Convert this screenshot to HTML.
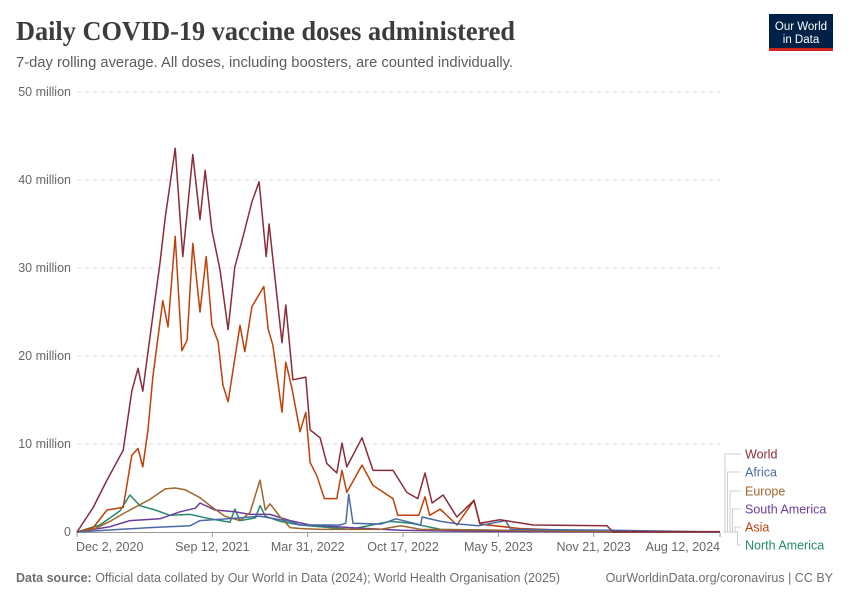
<!DOCTYPE html>
<html><head><meta charset="utf-8"><style>
body{margin:0;background:#fff}
svg text{font-family:"Liberation Sans",sans-serif}
</style></head><body>
<svg id="chart" width="850" height="600" xmlns="http://www.w3.org/2000/svg">
<rect width="850" height="600" fill="#fff"/>
<text x="16" y="40" font-family="Liberation Serif,serif" font-weight="bold" font-size="27" fill="#3c3c3c" textLength="499" lengthAdjust="spacingAndGlyphs" style="font-family:'Liberation Serif',serif">Daily COVID-19 vaccine doses administered</text>
<text x="16" y="67" font-size="14.5" fill="#5b5b5b" textLength="497" lengthAdjust="spacingAndGlyphs">7-day rolling average. All doses, including boosters, are counted individually.</text>
<g>
<rect x="769" y="14" width="64" height="36" fill="#002147"/>
<rect x="769" y="48" width="64" height="3" fill="#ce261e"/>
<text x="801" y="30" font-size="11.5" fill="#fff" text-anchor="middle">Our World</text>
<text x="801" y="43" font-size="11.5" fill="#fff" text-anchor="middle">in Data</text>
</g>
<g id="grid"></g>
<g id="xaxis"></g>
<g id="series"></g>
<g id="legend"></g>
<text x="16" y="582" font-size="12.5" fill="#6e6e6e"><tspan font-weight="bold">Data source:</tspan> Official data collated by Our World in Data (2024); World Health Organisation (2025)</text>
<text x="833" y="582" font-size="12.5" fill="#6e6e6e" text-anchor="end">OurWorldinData.org/coronavirus | CC BY</text>
</svg>
<script>
// days since Dec 2, 2020 ; values in millions
const yTicks=[0,10,20,30,40,50];
const yTickLabels=["0","10 million","20 million","30 million","40 million","50 million"];
const xTickDays=[0,284,484,684,884,1084,1349];
const xTickLabels=["Dec 2, 2020","Sep 12, 2021","Mar 31, 2022","Oct 17, 2022","May 5, 2023","Nov 21, 2023","Aug 12, 2024"];
const seriesNames=["World","Africa","Europe","South America","Asia","North America"];
const seriesColors=["#8a2c3a","#4a6aa6","#a0662c","#6b3d9a","#c0400a","#238a6a"];
const worldDays=[0,34,63,97,115,128,138,149,174,185,206,222,243,258,269,283,300,317,331,348,367,382,397,403,430,438,453,480,489,510,524,545,556,566,598,621,663,692,715,730,745,768,797,833,845,887,957,1112,1124,1349];
const worldVals=[0,2.8,5.9,9.3,16,18.6,16,20.5,30.5,35.7,43.6,31.3,42.9,35.5,41.1,34.3,29.8,23,30.1,33.5,37.5,39.8,31.3,35,21.5,25.8,17.3,17.6,11.6,10.7,7.8,6.7,10.1,7.4,10.7,7,7,4.5,3.8,6.7,3.3,4.2,1.7,3.6,1,1.4,0.8,0.7,0.05,0.05];
const asiaDays=[0,34,63,97,115,128,138,149,159,180,191,206,220,231,243,258,271,283,296,306,317,342,352,367,392,401,411,430,438,451,468,480,489,503,519,545,556,566,598,621,663,673,717,730,740,762,797,833,845,929,1124,1349];
const asiaVals=[0,0.5,2.5,2.8,8.7,9.5,7.4,11.6,17.6,26.3,23.3,33.6,20.6,21.8,32.8,25,31.3,23.5,21.6,16.7,14.8,23.5,20.5,25.6,27.9,23.1,21.2,13.6,19.3,16.3,11.4,13.6,7.9,6.4,3.8,3.8,7,4.5,7.6,5.3,3.8,1.9,1.9,4,1.9,2.6,0.8,3.6,0.9,0.4,0,0];
const europeDays=[0,34,69,101,153,185,206,227,258,279,310,342,363,384,395,405,425,447,468,510,636,679,721,887,1098,1349];
const europeVals=[0,0.3,1.2,2.2,3.7,4.9,5.0,4.8,3.9,3.0,1.8,1.3,2.2,5.9,2.5,3.2,1.8,0.5,0.4,0.3,0.3,0.7,0.3,0.2,0.05,0];
const africaDays=[0,153,237,258,342,384,447,468,552,564,570,579,638,669,721,724,763,803,842,899,910,1124,1349];
const africaVals=[0,0.5,0.7,1.3,1.6,1.8,1.2,0.8,0.8,1.0,4.3,1.0,0.9,1.5,0.8,1.7,1.2,0.9,0.7,1.3,0.3,0.2,0];
const samericaDays=[0,69,111,174,216,248,258,289,331,363,405,447,489,573,678,783,1124,1349];
const samericaVals=[0,0.6,1.3,1.5,2.3,2.7,3.3,2.5,2.3,2.0,2.0,1.3,0.8,0.5,0.2,0.1,0,0];
const namericaDays=[0,48,90,111,132,164,195,237,279,321,331,342,374,384,395,426,468,573,657,700,763,889,1124,1349];
const namericaVals=[0,0.8,2.4,4.2,3.0,2.5,1.9,2.0,1.5,1.1,2.6,1.3,1.6,3.0,1.8,1.2,0.8,0.3,1.2,1.0,0.3,0.2,0,0];
const allDays=[worldDays,africaDays,europeDays,samericaDays,asiaDays,namericaDays];
const allVals=[worldVals,africaVals,europeVals,samericaVals,asiaVals,namericaVals];

const X0=77,X1=720,Y0=532,Y1=92,DMAX=1349,VMAX=50;
const xs=d=>X0+(X1-X0)*d/DMAX;
const ys=v=>Y0-(Y0-Y1)*v/VMAX;
const NS="http://www.w3.org/2000/svg";
function mk(tag,attrs,parent){const e=document.createElementNS(NS,tag);for(const k in attrs)e.setAttribute(k,attrs[k]);parent.appendChild(e);return e;}
const grid=document.getElementById('grid');
yTicks.forEach((t,i)=>{
  if(t>0){const l=mk('line',{x1:X0,x2:X1,y1:ys(t),y2:ys(t),stroke:'#dcdcdc','stroke-dasharray':'4,4'},grid);
  
  }
  const tx=mk('text',{x:71,y:ys(t)+4,'font-size':'12.5',fill:'#666','text-anchor':'end'},grid);
  tx.textContent=yTickLabels[i];
  
  
});
const xa=document.getElementById('xaxis');
const ax=mk('line',{x1:X0,x2:X1,y1:Y0+0.5,y2:Y0+0.5,stroke:'#999'},xa);


xTickDays.forEach((d,i)=>{
  const x=xs(d);
  mk('line',{x1:x,x2:x,y1:Y0,y2:Y0+5,stroke:'#999'},xa);
  const anchor=i==0?'start':(i==xTickDays.length-1?'end':'middle');
  const tx=mk('text',{x:i==0?x-1:x,y:551,'font-size':'12.5',fill:'#666','text-anchor':anchor},xa);
  tx.textContent=xTickLabels[i];
  
  
});
const sg=document.getElementById('series');
for(let s=allDays.length-1;s>=0;s--){
  const pts=allDays[s].map((d,i)=>xs(d).toFixed(1)+','+ys(allVals[s][i]).toFixed(1)).join(' ');
  const p=mk('polyline',{points:pts,fill:'none',stroke:seriesColors[s],'stroke-width':1.5,'stroke-linejoin':'round'},sg);
  
  
}
const lg=document.getElementById('legend');
const legY=[454,472,491,509,527,545];
seriesNames.forEach((n,i)=>{
  const bx=725+i*2.5;
  mk('path',{d:`M${X1+3},${Y0} L${bx},${Y0} L${bx},${legY[i]} L741,${legY[i]}`,fill:'none',stroke:'#ccc'},lg);
  const tx=mk('text',{x:745,y:legY[i]+4.5,'font-size':'12.5',fill:seriesColors[i]},lg);
  tx.textContent=n;
  
  
});
</script>
</body></html>
